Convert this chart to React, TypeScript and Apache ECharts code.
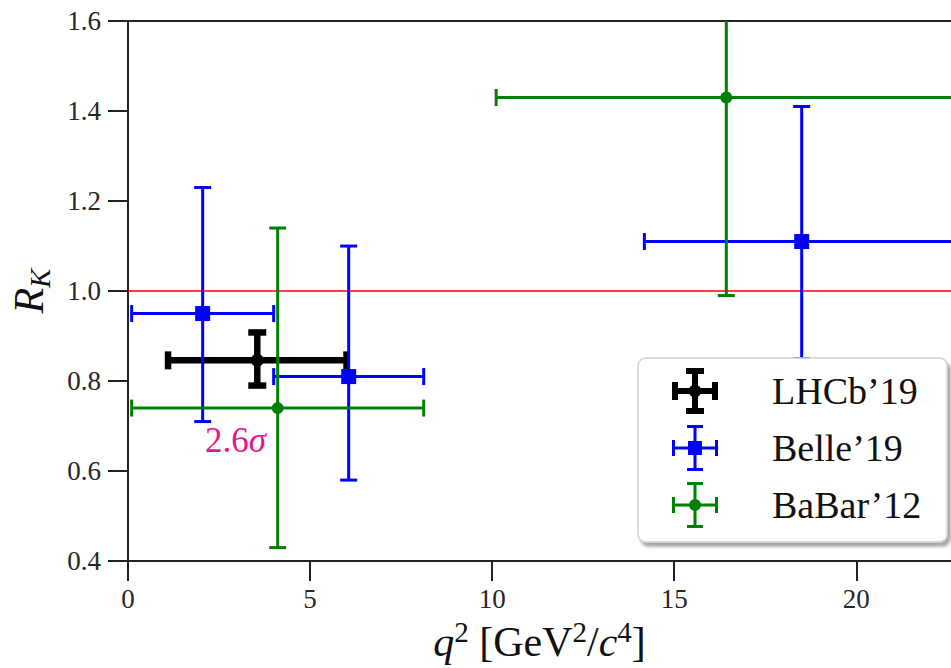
import React, { useEffect, useRef } from 'react';
import * as echarts from 'echarts';

// ---- data ----
// each point: [x, y, xLow, xHigh, yLow, yHigh]
const lhcbPoints = [[3.55, 0.846, 1.1, 6.0, 0.79, 0.908]];
const bellePoints = [
  [2.05, 0.95, 0.1, 4.0, 0.71, 1.23],
  [6.06, 0.81, 4.0, 8.12, 0.58, 1.1],
  [18.5, 1.11, 14.18, 22.9, 0.85, 1.41],
];
const babarPoints = [
  [4.11, 0.74, 0.1, 8.12, 0.43, 1.14],
  [16.43, 1.43, 10.11, 22.75, 0.99, 1.81],
];
const seriesNames = ['LHCb’19', 'Belle’19', 'BaBar’12'];
const smLineX = [0, 22.6];
const smLineY = [1.0, 1.0];
const annotX = [2.95];
const annotY = [0.668];
const annotNum = ['2.6'];
const annotSym = ['σ'];
const xTickMin = 0;
const xTickMax = 22.6;
const xTickStep = 5;
const yTickMin = 0.4;
const yTickMax = 1.6;
const yTickStep = 0.2;

const SERIF = 'Liberation Serif';
const AXIS_COLOR = '#222';

const ICON_LHCB =
  'path://M0 20H46V26H0Z M20 0H26V46H20Z M0 14H6V32H0Z M40 14H46V32H40Z M14 0H32V6H14Z M14 40H32V46H14Z M16.5 23A6.5 6.5 0 1 1 29.5 23A6.5 6.5 0 1 1 16.5 23Z';
const ICON_BELLE =
  'path://M0 21.5H46V24.5H0Z M21.5 0H24.5V46H21.5Z M0 15H3V31H0Z M43 15H46V31H43Z M15 0H31V3H15Z M15 43H31V46H15Z M16 16H30V30H16Z';
const ICON_BABAR =
  'path://M0 21.5H46V24.5H0Z M21.5 0H24.5V46H21.5Z M0 15H3V31H0Z M43 15H46V31H43Z M15 0H31V3H15Z M15 43H31V46H15Z M17 23A6 6 0 1 1 29 23A6 6 0 1 1 17 23Z';

function errorSeries(
  name: string,
  points: number[][],
  color: string,
  lw: number,
  capLen: number,
  capW: number,
  marker: 'circle' | 'rect',
  msize: number,
  z: number
) {
  return {
    name,
    type: 'custom',
    z,
    clip: true,
    itemStyle: { color },
    encode: { x: [0, 2, 3], y: [1, 4, 5] },
    data: points,
    renderItem: (params: any, api: any) => {
      const x = api.value(0);
      const y = api.value(1);
      const c = api.coord([x, y]);
      const pl = api.coord([api.value(2), y]);
      const ph = api.coord([api.value(3), y]);
      const pb = api.coord([x, api.value(4)]);
      const pt = api.coord([x, api.value(5)]);
      const st = { stroke: color, lineWidth: lw, lineCap: 'butt', fill: 'none' };
      const cs = { stroke: color, lineWidth: capW, lineCap: 'butt', fill: 'none' };
      const h = capLen / 2;
      const children: any[] = [
        { type: 'line', shape: { x1: pl[0], y1: c[1], x2: ph[0], y2: c[1] }, style: st },
        { type: 'line', shape: { x1: c[0], y1: pb[1], x2: c[0], y2: pt[1] }, style: st },
        { type: 'line', shape: { x1: pl[0], y1: c[1] - h, x2: pl[0], y2: c[1] + h }, style: cs },
        { type: 'line', shape: { x1: ph[0], y1: c[1] - h, x2: ph[0], y2: c[1] + h }, style: cs },
        { type: 'line', shape: { x1: c[0] - h, y1: pb[1], x2: c[0] + h, y2: pb[1] }, style: cs },
        { type: 'line', shape: { x1: c[0] - h, y1: pt[1], x2: c[0] + h, y2: pt[1] }, style: cs },
      ];
      if (marker === 'rect') {
        children.push({
          type: 'rect',
          shape: { x: c[0] - msize / 2, y: c[1] - msize / 2, width: msize, height: msize },
          style: { fill: color },
        });
      } else {
        children.push({
          type: 'circle',
          shape: { cx: c[0], cy: c[1], r: msize / 2 },
          style: { fill: color },
        });
      }
      return { type: 'group', children };
    },
  };
}

export default function App() {
  const ref = useRef<HTMLDivElement>(null);
  useEffect(() => {
    if (!ref.current) return;
    const chart = echarts.init(ref.current, null, { renderer: 'svg' });
    const mainTok = { fontFamily: SERIF, fontSize: 42, color: '#111', lineHeight: 50, verticalAlign: 'middle' };
    const italTok = { ...mainTok, fontStyle: 'italic' };
    const supTok = { fontFamily: SERIF, fontSize: 29, color: '#111', lineHeight: 29, verticalAlign: 'top' };
    const subTok = { fontFamily: SERIF, fontSize: 29, color: '#111', lineHeight: 29, verticalAlign: 'bottom', fontStyle: 'italic' };
    const tickTok = { fontFamily: SERIF, fontSize: 27, color: '#262626' };
    const option: any = {
      animation: false,
      backgroundColor: '#ffffff',
      textStyle: { fontFamily: SERIF },
      grid: { left: 125, right: 0, top: 21, bottom: 103, containLabel: false },
      xAxis: [
        {
          type: 'value',
          min: xTickMin,
          max: xTickMax,
          interval: xTickStep,
          name: '{i|q}{sup|2}{n| [GeV}{sup|2}{n|/}{i|c}{sup|4}{n|]}',
          nameLocation: 'middle',
          nameGap: 51,
          nameTextStyle: { rich: { n: mainTok, i: italTok, sup: supTok } },
          axisLine: { show: true, onZero: false, lineStyle: { color: AXIS_COLOR, width: 2 } },
          axisTick: { show: true, inside: false, length: 20, lineStyle: { color: AXIS_COLOR, width: 2 } },
          axisLabel: {
            margin: 24,
            fontFamily: SERIF,
            fontSize: 27,
            color: '#262626',
            showMaxLabel: false,
            rich: { t: tickTok },
            formatter: (v: number) => (Math.abs(v % xTickStep) < 1e-9 ? '{t|' + String(v) + '}' : ''),
          },
          splitLine: { show: false },
        },
        {
          type: 'value',
          position: 'top',
          min: xTickMin,
          max: xTickMax,
          axisLine: { show: true, onZero: false, lineStyle: { color: AXIS_COLOR, width: 2 } },
          axisTick: { show: false },
          axisLabel: { show: false },
          splitLine: { show: false },
        },
      ],
      yAxis: {
        type: 'value',
        min: yTickMin,
        max: yTickMax,
        interval: yTickStep,
        name: '{i|R}{sub|K}',
        nameLocation: 'middle',
        nameGap: 74,
        nameRotate: 90,
        nameTextStyle: { rich: { i: italTok, sub: subTok } },
        axisLine: { show: true, onZero: false, lineStyle: { color: AXIS_COLOR, width: 2 } },
        axisTick: { show: true, inside: false, length: 20, lineStyle: { color: AXIS_COLOR, width: 2 } },
        axisLabel: {
          margin: 27,
          fontFamily: SERIF,
          fontSize: 27,
          color: '#262626',
          rich: { t: tickTok },
          formatter: (v: number) => '{t|' + v.toFixed(1) + '}',
        },
        splitLine: { show: false },
      },
      legend: {
        show: true,
        orient: 'vertical',
        left: 638,
        top: 358,
        z: 20,
        selectedMode: false,
        padding: [10, 26, 14, 34],
        itemWidth: 46,
        itemHeight: 46,
        itemGap: 11,
        backgroundColor: '#ffffff',
        borderColor: '#cfcfcf',
        borderWidth: 1.5,
        borderRadius: 8,
        shadowColor: 'rgba(0,0,0,0.35)',
        shadowBlur: 3,
        shadowOffsetX: 3,
        shadowOffsetY: 4,
        textStyle: { fontFamily: SERIF, fontSize: 38, color: '#111', padding: [0, 0, 0, 49] },
        data: [
          { name: seriesNames[0], icon: ICON_LHCB },
          { name: seriesNames[1], icon: ICON_BELLE },
          { name: seriesNames[2], icon: ICON_BABAR },
        ],
      },
      series: [
        {
          name: 'SM',
          type: 'line',
          z: 1,
          silent: true,
          showSymbol: false,
          symbol: 'none',
          lineStyle: { color: '#ff0000', width: 1.5 },
          data: smLineX.map((x, i) => [x, smLineY[i]]),
        },
        errorSeries(seriesNames[0], lhcbPoints, '#000000', 6.5, 18, 6.5, 'circle', 13, 3),
        errorSeries(seriesNames[1], bellePoints, '#0000ff', 3, 17, 3, 'rect', 15, 4),
        errorSeries(seriesNames[2], babarPoints, '#008000', 3, 17, 3, 'circle', 12, 5),
        {
          name: 'annotation',
          type: 'custom',
          z: 6,
          silent: true,
          data: annotX.map((x, i) => [x, annotY[i], i]),
          renderItem: (params: any, api: any) => {
            const p = api.coord([api.value(0), api.value(1)]);
            const idx = api.value(2);
            return {
              type: 'text',
              x: p[0],
              y: p[1],
              style: {
                text: '{n|' + annotNum[idx] + '}{s|' + annotSym[idx] + '}',
                align: 'center',
                verticalAlign: 'middle',
                fill: '#e8168c',
                fontFamily: SERIF,
                fontSize: 35,
                rich: {
                  n: { fontFamily: SERIF, fontSize: 35, fill: '#e8168c' },
                  s: { fontFamily: SERIF, fontSize: 35, fontStyle: 'italic', fill: '#e8168c' },
                },
              },
            };
          },
        },
      ],
    };
    chart.setOption(option);
    return () => chart.dispose();
  }, []);
  return (
    <div
      ref={ref}
      style={{ position: 'fixed', left: 0, top: 0, width: 951, height: 668, background: '#fff' }}
    />
  );
}
